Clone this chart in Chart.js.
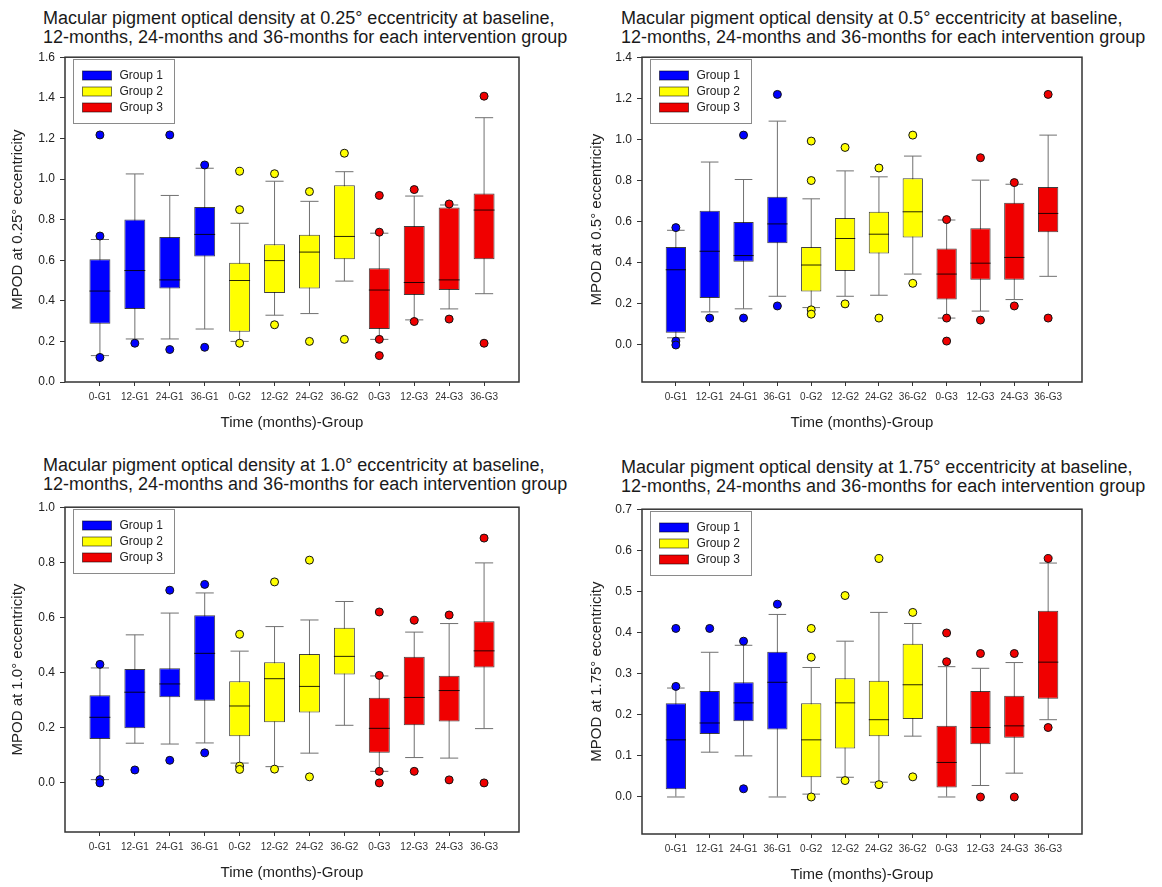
<!DOCTYPE html>
<html>
<head>
<meta charset="utf-8">
<script src="https://cdn.jsdelivr.net/npm/chart.js@4/dist/chart.umd.min.js"></script>
<style>
  body { margin: 0; background: #fff; width: 1162px; height: 887px; position: relative; overflow: hidden;
         font-family: Arial, "Liberation Sans", sans-serif; }
  .title { position: absolute; font-size: 18px; line-height: 19px; color: #1a1a1a; white-space: nowrap; }
  canvas { position: absolute; }
</style>
</head>
<body>
<div class="title" style="left:43px;top:9px">Macular pigment optical density at 0.25° eccentricity at baseline,<br>12-months, 24-months and 36-months for each intervention group</div>
<div class="title" style="left:621px;top:9px">Macular pigment optical density at 0.5° eccentricity at baseline,<br>12-months, 24-months and 36-months for each intervention group</div>
<div class="title" style="left:43px;top:456px">Macular pigment optical density at 1.0° eccentricity at baseline,<br>12-months, 24-months and 36-months for each intervention group</div>
<div class="title" style="left:621px;top:458px">Macular pigment optical density at 1.75° eccentricity at baseline,<br>12-months, 24-months and 36-months for each intervention group</div>

<canvas id="c025" width="580" height="400" style="left:0;top:45px"></canvas>
<canvas id="c05" width="582" height="400" style="left:580px;top:45px"></canvas>
<canvas id="c10" width="580" height="392" style="left:0;top:495px"></canvas>
<canvas id="c175" width="582" height="390" style="left:580px;top:497px"></canvas>

<script>
// categories and groups
const categories = ['0-G1', '12-G1', '24-G1', '36-G1', '0-G2', '12-G2', '24-G2', '36-G2', '0-G3', '12-G3', '24-G3', '36-G3'];
const groupOf = [0, 0, 0, 0, 1, 1, 1, 1, 2, 2, 2, 2];
const groupNames = ['Group 1', 'Group 2', 'Group 3'];
const groupColors = ['#0000ff', '#ffff00', '#f00000'];
const xTitle = 'Time (months)-Group';

// 0.25 deg
const p025Q1 = [0.287, 0.360, 0.461, 0.618, 0.248, 0.438, 0.461, 0.605, 0.261, 0.429, 0.453, 0.605];
const p025Median = [0.448, 0.549, 0.503, 0.727, 0.500, 0.598, 0.640, 0.717, 0.453, 0.490, 0.503, 0.847];
const p025Q3 = [0.605, 0.800, 0.714, 0.862, 0.588, 0.678, 0.725, 0.969, 0.560, 0.769, 0.860, 0.929];
const p025Low = [0.130, 0.212, 0.212, 0.261, 0.200, 0.329, 0.337, 0.497, 0.210, 0.306, 0.360, 0.435];
const p025High = [0.702, 1.025, 0.919, 1.053, 0.782, 0.989, 0.890, 1.036, 0.733, 0.916, 0.872, 1.302];
const p025Outliers = [[1.217, 0.719, 0.121], [0.191], [1.217, 0.160], [1.069, 0.171], [1.038, 0.849, 0.191], [1.026, 0.282],
  [0.938, 0.200], [1.127, 0.210], [0.919, 0.738, 0.210, 0.130], [0.948, 0.298], [0.877, 0.310], [1.408, 0.191]];
const p025Ticks = [0, 0.2, 0.4, 0.6, 0.8, 1.0, 1.2, 1.4, 1.6];

// 0.5 deg
const p05Q1 = [0.060, 0.229, 0.405, 0.495, 0.260, 0.360, 0.445, 0.523, 0.221, 0.318, 0.318, 0.548];
const p05Median = [0.366, 0.456, 0.435, 0.589, 0.389, 0.518, 0.539, 0.648, 0.345, 0.398, 0.426, 0.640];
const p05Q3 = [0.477, 0.653, 0.598, 0.721, 0.477, 0.618, 0.648, 0.811, 0.469, 0.568, 0.692, 0.768];
const p05Low = [0.035, 0.161, 0.176, 0.237, 0.182, 0.237, 0.242, 0.345, 0.131, 0.165, 0.221, 0.334];
const p05High = [0.558, 0.890, 0.805, 1.089, 0.711, 0.847, 0.818, 0.919, 0.608, 0.802, 0.782, 1.021];
const p05Outliers = [[0.571, 0.019, 0.0], [0.131], [1.021, 0.131], [1.219, 0.190], [0.992, 0.800, 0.171, 0.150], [0.961, 0.200],
  [0.861, 0.131], [1.021, 0.300], [0.610, 0.131, 0.019], [0.911, 0.121], [0.790, 0.190], [1.219, 0.131]];
const p05Ticks = [0, 0.2, 0.4, 0.6, 0.8, 1.0, 1.2, 1.4];

// 1.0 deg
const p10Q1 = [0.159, 0.198, 0.311, 0.298, 0.169, 0.220, 0.255, 0.393, 0.109, 0.209, 0.223, 0.419];
const p10Median = [0.238, 0.329, 0.359, 0.470, 0.279, 0.378, 0.350, 0.459, 0.198, 0.310, 0.335, 0.479];
const p10Q3 = [0.318, 0.413, 0.416, 0.608, 0.369, 0.438, 0.468, 0.563, 0.309, 0.458, 0.389, 0.586];
const p10Low = [0.012, 0.144, 0.141, 0.145, 0.072, 0.059, 0.108, 0.209, 0.042, 0.092, 0.090, 0.197];
const p10High = [0.417, 0.537, 0.616, 0.689, 0.478, 0.567, 0.591, 0.658, 0.388, 0.547, 0.578, 0.798];
const p10Outliers = [[0.430, 0.012, 0.0], [0.047], [0.699, 0.082], [0.720, 0.109], [0.539, 0.061, 0.049], [0.729, 0.050],
  [0.808, 0.022], [], [0.620, 0.390, 0.042, 0.0], [0.590, 0.042], [0.609, 0.011], [0.888, 0.0]];
const p10Ticks = [0, 0.2, 0.4, 0.6, 0.8, 1.0];

// 1.75 deg
const p175Q1 = [0.019, 0.153, 0.184, 0.164, 0.048, 0.118, 0.148, 0.190, 0.023, 0.128, 0.144, 0.239];
const p175Median = [0.139, 0.180, 0.229, 0.279, 0.139, 0.229, 0.188, 0.273, 0.084, 0.169, 0.173, 0.328];
const p175Q3 = [0.228, 0.258, 0.279, 0.353, 0.228, 0.289, 0.283, 0.373, 0.173, 0.258, 0.246, 0.453];
const p175Low = [0.0, 0.109, 0.100, 0.0, 0.007, 0.048, 0.036, 0.148, 0.0, 0.028, 0.058, 0.188];
const p175High = [0.265, 0.352, 0.369, 0.444, 0.315, 0.379, 0.449, 0.422, 0.317, 0.313, 0.327, 0.569];
const p175Outliers = [[0.410, 0.269], [0.410], [0.379, 0.020], [0.469], [0.410, 0.340, 0.0], [0.490, 0.040],
  [0.580, 0.030], [0.449, 0.049], [0.399, 0.329], [0.349, 0.0], [0.349, 0.0], [0.580, 0.169]];
const p175Ticks = [0, 0.1, 0.2, 0.3, 0.4, 0.5, 0.6, 0.7];

Chart.defaults.font.family = 'Arial, "Liberation Sans", sans-serif';
Chart.defaults.color = '#222';

// frame round the plot area
const framePlugin = {
  id: 'frame',
  beforeDatasetsDraw(chart) {
    const { ctx, chartArea: a } = chart;
    ctx.save();
    ctx.strokeStyle = '#333';
    ctx.lineWidth = 1.5;
    ctx.strokeRect(a.left, a.top, a.right - a.left, a.bottom - a.top);
    ctx.restore();
  }
};

// legend box in the top-left corner
const legendPlugin = {
  id: 'groupLegend',
  afterDatasetsDraw(chart) {
    const { ctx, chartArea: a } = chart;
    const x = Math.round(a.left + 8) + 0.5, y = Math.round(a.top + 2) + 0.5;
    ctx.save();
    ctx.fillStyle = '#fff';
    ctx.fillRect(x, y, 101, 64);
    ctx.strokeStyle = '#8a8a8a';
    ctx.lineWidth = 1;
    ctx.strokeRect(x, y, 101, 64);
    ctx.font = '12px Arial, "Liberation Sans", sans-serif';
    ctx.textBaseline = 'middle';
    groupNames.forEach((name, i) => {
      const cy = y + 16 + i * 16;
      ctx.fillStyle = groupColors[i];
      ctx.fillRect(x + 9, cy - 4.5, 29, 9);
      ctx.strokeStyle = 'rgba(0,0,0,0.55)';
      ctx.strokeRect(x + 9, cy - 4.5, 29, 9);
      ctx.fillStyle = '#222';
      ctx.fillText(name, x + 46, cy);
    });
    ctx.restore();
  }
};

// width of one category slot in pixels
function unit(chart) {
  const a = chart.chartArea;
  if (!a) return 34;
  return (a.right - a.left) / (categories.length + 1);
}

function boxChart(id, q1, median, q3, low, high, outliers, yMin, yMax, yTicks, yTitle, lay) {
  const xs = categories.map((_, i) => i);
  const outPts = [];
  outliers.forEach((arr, i) => arr.forEach(v => outPts.push({ x: i, y: v })));
  const capPts = xs.map(i => ({ x: i, y: low[i] })).concat(xs.map(i => ({ x: i, y: high[i] })));

  new Chart(document.getElementById(id).getContext('2d'), {
    type: 'bar',
    data: {
      datasets: [
        {
          // whiskers
          type: 'bar',
          data: xs.map(i => ({ x: i, y: [low[i], high[i]] })),
          backgroundColor: '#707070',
          borderWidth: 0,
          maxBarThickness: 1,
          grouped: false,
          order: 5
        },
        {
          // whisker caps
          type: 'scatter',
          data: capPts,
          pointStyle: 'line',
          radius: c => unit(c.chart) * 0.26,
          borderColor: '#707070',
          borderWidth: 1,
          order: 4
        },
        {
          // boxes
          type: 'bar',
          data: xs.map(i => ({ x: i, y: [q1[i], q3[i]] })),
          backgroundColor: xs.map(i => groupColors[groupOf[i]]),
          borderColor: 'rgba(0,0,0,0.75)',
          borderWidth: 1,
          borderSkipped: false,
          barPercentage: 0.6,
          categoryPercentage: 1,
          grouped: false,
          order: 3
        },
        {
          // medians
          type: 'scatter',
          data: xs.map(i => ({ x: i, y: median[i] })),
          pointStyle: 'line',
          radius: c => unit(c.chart) * 0.3,
          borderColor: 'rgba(0,0,0,0.85)',
          borderWidth: 1,
          order: 2
        },
        {
          // outliers
          type: 'scatter',
          data: outPts,
          radius: 4,
          backgroundColor: c => groupColors[groupOf[c.raw ? c.raw.x : 0]],
          borderColor: '#111',
          borderWidth: 1,
          order: 1
        }
      ]
    },
    options: {
      responsive: false,
      animation: false,
      events: [],
      layout: { padding: { left: 0, top: 10, right: lay.padR, bottom: 0 } },
      plugins: { legend: { display: false }, tooltip: { enabled: false } },
      scales: {
        x: {
          type: 'linear',
          offset: false,
          min: -1,
          max: categories.length,
          afterBuildTicks: s => { s.ticks = xs.map(v => ({ value: v })); },
          afterFit: s => { s.height = lay.xH; },
          ticks: {
            callback: v => categories[v],
            autoSkip: false,
            maxRotation: 0,
            font: { size: 10 },
            color: '#333',
            padding: 5
          },
          grid: { offset: false, drawOnChartArea: false, tickLength: 4, color: '#333' },
          border: { display: false },
          title: { display: true, text: xTitle, font: { size: 15 }, color: '#222', padding: { top: 0, bottom: lay.xTitlePad } }
        },
        y: {
          type: 'linear',
          min: yMin,
          max: yMax,
          afterBuildTicks: s => { s.ticks = yTicks.map(v => ({ value: v })); },
          afterFit: s => { s.width = lay.yW; },
          ticks: {
            callback: v => v.toFixed(1),
            autoSkip: false,
            font: { size: 12 },
            color: '#222',
            padding: 5
          },
          grid: { drawOnChartArea: false, tickLength: 5, color: '#333' },
          border: { display: false },
          title: { display: true, text: yTitle, font: { size: 15 }, color: '#222', padding: { top: lay.yTitlePad, bottom: 0 } }
        }
      }
    },
    plugins: [framePlugin, legendPlugin]
  });
}

boxChart('c025', p025Q1, p025Median, p025Q3, p025Low, p025High, p025Outliers, 0, 1.6, p025Ticks,
  'MPOD at 0.25° eccentricity', { yW: 65, padR: 61, xH: 63, xTitlePad: 13, yTitlePad: 9 });
boxChart('c05', p05Q1, p05Median, p05Q3, p05Low, p05High, p05Outliers, -0.18, 1.4, p05Ticks,
  'MPOD at 0.5° eccentricity', { yW: 62, padR: 80, xH: 63, xTitlePad: 13, yTitlePad: 8 });
boxChart('c10', p10Q1, p10Median, p10Q3, p10Low, p10High, p10Outliers, -0.178, 1.0, p10Ticks,
  'MPOD at 1.0° eccentricity', { yW: 65, padR: 61, xH: 55, xTitlePad: 5, yTitlePad: 9 });
boxChart('c175', p175Q1, p175Median, p175Q3, p175Low, p175High, p175Outliers, -0.09, 0.7, p175Ticks,
  'MPOD at 1.75° eccentricity', { yW: 62, padR: 80, xH: 53, xTitlePad: 3, yTitlePad: 8 });
</script>
</body>
</html>
